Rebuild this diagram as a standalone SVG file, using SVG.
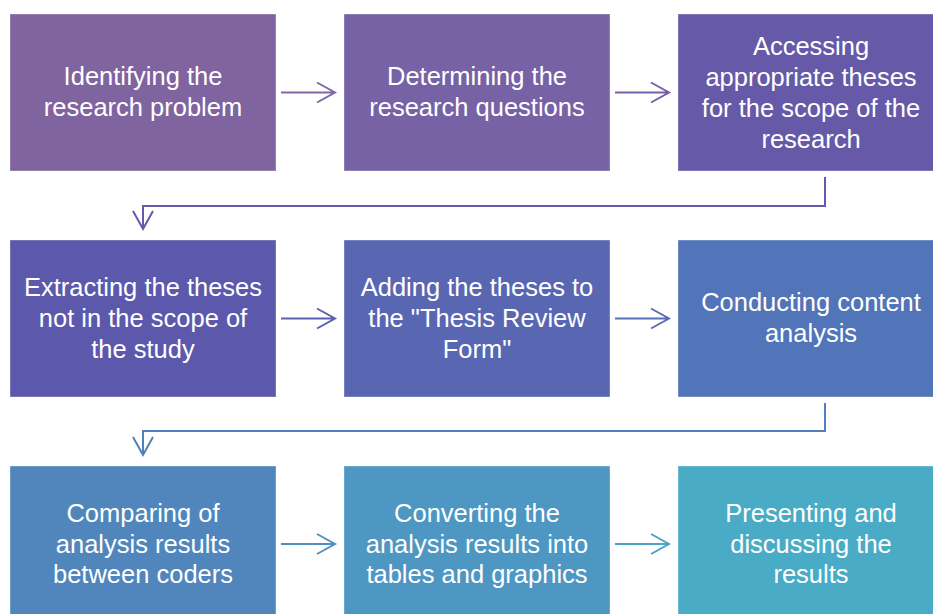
<svg xmlns="http://www.w3.org/2000/svg" width="933" height="614" viewBox="0 0 933 614">
<defs>
<style>
.box{stroke:#ffffff;stroke-opacity:0.35;stroke-width:1}
.t{font-family:"Liberation Sans",Arial,sans-serif;font-size:25.5px;fill:#ffffff;text-anchor:middle}
.con{fill:none;stroke-width:2}
</style>
</defs>
<rect width="933" height="614" fill="#ffffff"/>
<g id="connectors">
<g stroke="#8067a8" class="con"><path d="M281 92.5H335M317 82.5L335 92.5L317 102.5"/></g>
<g stroke="#7560a8" class="con"><path d="M615 92.5H669M651 82.5L669 92.5L651 102.5"/></g>
<g stroke="#6459aa" class="con"><path d="M825 177V206H143V229M133 211L143 229L153 211"/></g>
<g stroke="#5b60b0" class="con"><path d="M281 318.5H335M317 308.5L335 318.5L317 328.5"/></g>
<g stroke="#5870b5" class="con"><path d="M615 318.5H669M651 308.5L669 318.5L651 328.5"/></g>
<g stroke="#5080ba" class="con"><path d="M825 403V431H143V455M133 437L143 455L153 437"/></g>
<g stroke="#4f90c0" class="con"><path d="M281 544H335M317 534L335 544L317 554"/></g>
<g stroke="#4ca3c4" class="con"><path d="M615 544H669M651 534L669 544L651 554"/></g>
</g>
<g id="n1"><rect class="box" x="10" y="14" width="266" height="157" fill="#80649f"/>
<text class="t" x="143" y="85">Identifying the</text><text class="t" x="143" y="116">research problem</text></g>
<g id="n2"><rect class="box" x="344" y="14" width="266" height="157" fill="#7762a6"/>
<text class="t" x="477" y="85">Determining the</text><text class="t" x="477" y="116">research questions</text></g>
<g id="n3"><rect class="box" x="678" y="14" width="266" height="157" fill="#665aa8"/>
<text class="t" x="811" y="55">Accessing</text><text class="t" x="811" y="86">appropriate theses</text><text class="t" x="811" y="117">for the scope of the</text><text class="t" x="811" y="148">research</text></g>
<g id="n4"><rect class="box" x="10" y="240" width="266" height="157" fill="#5c58ac"/>
<text class="t" x="143" y="296">Extracting the theses</text><text class="t" x="143" y="327">not in the scope of</text><text class="t" x="143" y="358">the study</text></g>
<g id="n5"><rect class="box" x="344" y="240" width="266" height="157" fill="#5967b3"/>
<text class="t" x="477" y="296">Adding the theses to</text><text class="t" x="477" y="327">the "Thesis Review</text><text class="t" x="477" y="358">Form"</text></g>
<g id="n6"><rect class="box" x="678" y="240" width="266" height="157" fill="#5274b8"/>
<text class="t" x="811" y="311">Conducting content</text><text class="t" x="811" y="342">analysis</text></g>
<g id="n7"><rect class="box" x="10" y="466" width="266" height="160" fill="#5086bc"/>
<text class="t" x="143" y="522">Comparing of</text><text class="t" x="143" y="553">analysis results</text><text class="t" x="143" y="583">between coders</text></g>
<g id="n8"><rect class="box" x="344" y="466" width="266" height="160" fill="#4d97c2"/>
<text class="t" x="477" y="522">Converting the</text><text class="t" x="477" y="553">analysis results into</text><text class="t" x="477" y="583">tables and graphics</text></g>
<g id="n9"><rect class="box" x="678" y="466" width="266" height="160" fill="#4aabc6"/>
<text class="t" x="811" y="522">Presenting and</text><text class="t" x="811" y="553">discussing the</text><text class="t" x="811" y="583">results</text></g>
</svg>
